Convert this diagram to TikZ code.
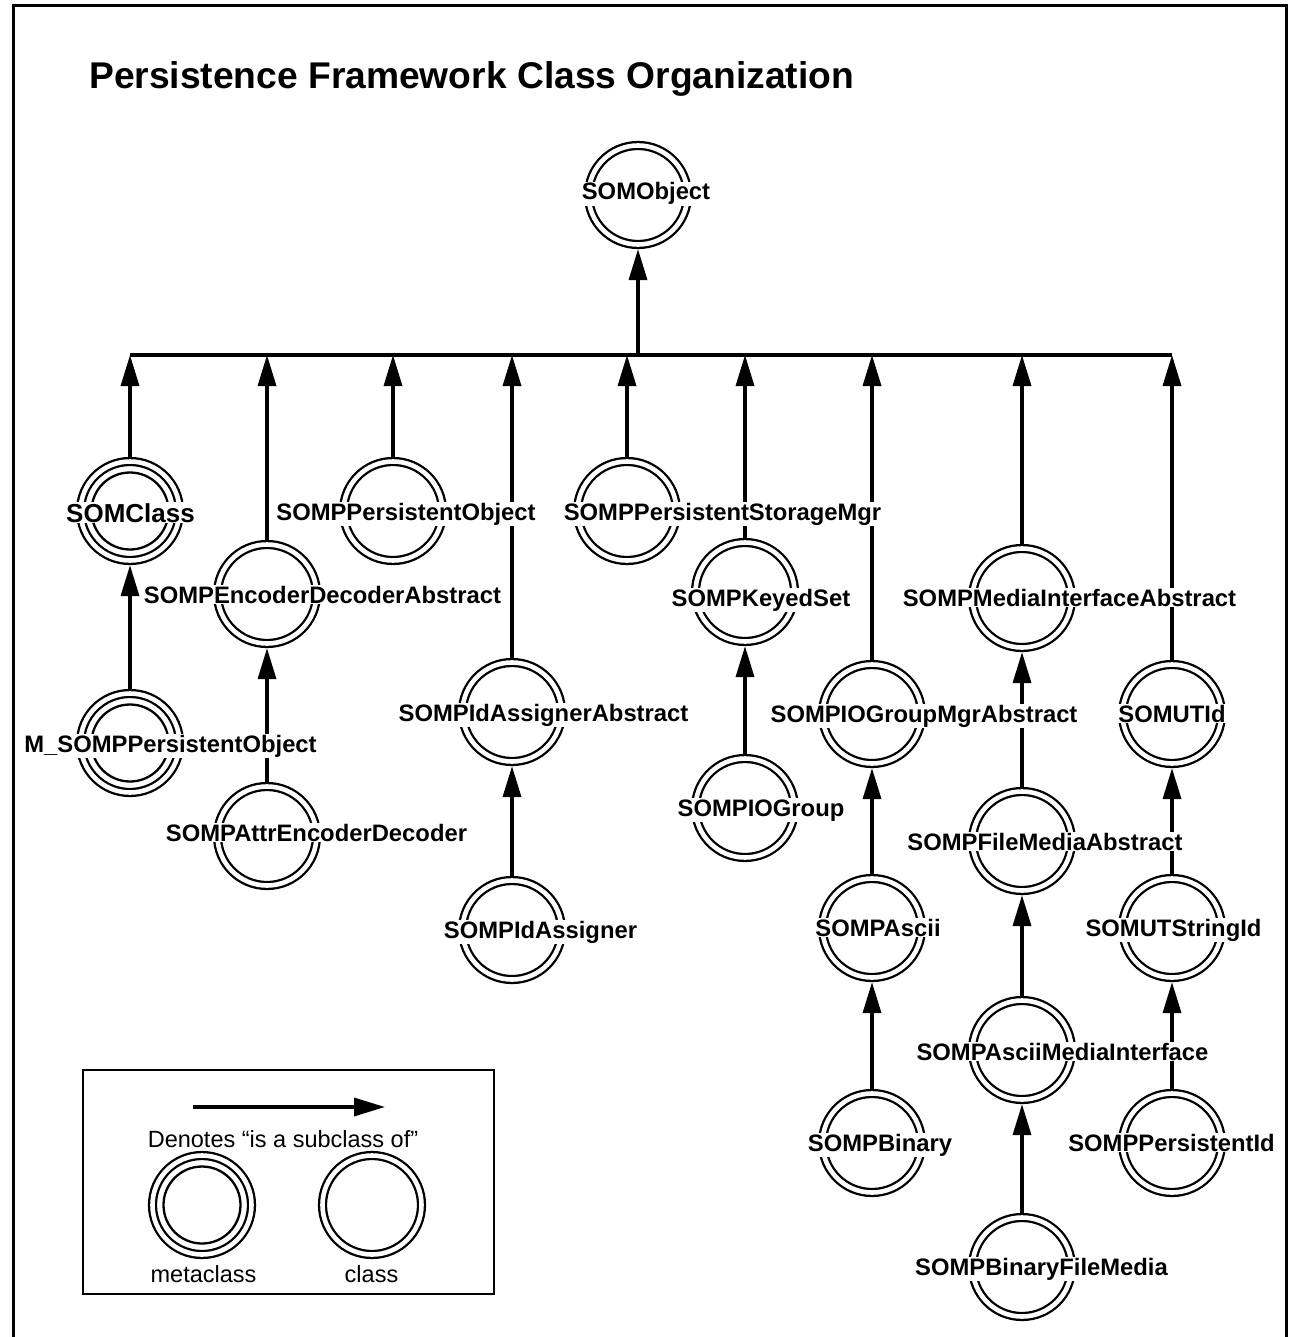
\documentclass[tikz,border=0pt]{standalone}
\usepackage{fontspec}
\setmainfont{Liberation Sans}
\usetikzlibrary{arrows.meta}
\begin{document}
\begin{tikzpicture}[x=1pt,y=-1pt,
  cls/.style={circle, draw, line width=2.3pt, double=white, double distance=4.6pt,
    minimum size=99pt, inner sep=0pt, outer sep=4.6pt},
  ring/.style={line width=2.3pt},
  lbl/.style={font=\fontsize{23.8}{28}\selectfont\bfseries, fill=white, inner sep=1.2pt, anchor=base},
  leg/.style={font=\fontsize{23.5}{28}\selectfont, inner sep=0pt, anchor=base},
  arr/.style={line width=3.4pt, -{Triangle[length=31pt,width=18pt]}},
  busline/.style={line width=3.6pt},
]
\useasboundingbox (0,0) rectangle (1288,1337);
% frame
\draw[line width=3pt] (13,1345) -- (13,6) -- (1286,6) -- (1286,1345);
% title
\node[font=\fontsize{37.2}{44}\selectfont\bfseries, anchor=base west, inner sep=0pt] (title) at (89,89)
  {Persistence Framework Class Organization};

% circles
\node[cls] (obj) at (638,195) {};
\node[cls] (somclass) at (130,511) {};
\node[cls] (encabs) at (267,594) {};
\node[cls] (pobj) at (393,511) {};
\node[cls] (idabs) at (512,712) {};
\node[cls] (psm) at (627,511) {};
\node[cls] (keyed) at (745,592) {};
\node[cls] (iogm) at (872,714) {};
\node[cls] (mia) at (1022,598) {};
\node[cls] (utid) at (1172,714) {};
\node[cls] (mpobj) at (130,743) {};
\node[cls] (attr) at (267,836) {};
\node[cls] (idas) at (512,930) {};
\node[cls] (iogroup) at (745,808) {};
\node[cls] (ascii) at (872,928) {};
\node[cls] (binary) at (872,1143) {};
\node[cls] (fma) at (1022,841) {};
\node[cls] (ami) at (1022,1050) {};
\node[cls] (bfm) at (1022,1267) {};
\node[cls] (strid) at (1172,928) {};
\node[cls] (pid) at (1172,1143) {};
% metaclass inner rings
\foreach \n in {somclass,mpobj} \draw[ring] (\n.center) circle (38.5pt);

% bus
\coordinate (b0) at (638,355);
\coordinate (b1) at (130,355);
\coordinate (b2) at (267,355);
\coordinate (b3) at (393,355);
\coordinate (b4) at (512,355);
\coordinate (b5) at (627,355);
\coordinate (b6) at (745,355);
\coordinate (b7) at (872,355);
\coordinate (b8) at (1022,355);
\coordinate (b9) at (1172,355);
\draw[busline] (b1) -- (b9);
\draw[arr] (b0) -- (obj.south);
\draw[arr] (somclass.north) -- (b1);
\draw[arr] (encabs.north) -- (b2);
\draw[arr] (pobj.north) -- (b3);
\draw[arr] (idabs.north) -- (b4);
\draw[arr] (psm.north) -- (b5);
\draw[arr] (keyed.north) -- (b6);
\draw[arr] (iogm.north) -- (b7);
\draw[arr] (mia.north) -- (b8);
\draw[arr] (utid.north) -- (b9);
% subclass arrows
\draw[arr] (mpobj.north) -- (somclass.south);
\draw[arr] (attr.north) -- (encabs.south);
\draw[arr] (idas.north) -- (idabs.south);
\draw[arr] (iogroup.north) -- (keyed.south);
\draw[arr] (ascii.north) -- (iogm.south);
\draw[arr] (binary.north) -- (ascii.south);
\draw[arr] (fma.north) -- (mia.south);
\draw[arr] (ami.north) -- (fma.south);
\draw[arr] (bfm.north) -- (ami.south);
\draw[arr] (strid.north) -- (utid.south);
\draw[arr] (pid.north) -- (strid.south);

% labels
\node[lbl] (l-obj) at (646,200) {SOMObject};
\node[lbl, font=\fontsize{26}{30}\selectfont\bfseries] (l-somclass) at (130.5,522) {SOMClass};
\node[lbl] (l-pobj) at (406,520) {SOMPPersistentObject};
\node[lbl] (l-encabs) at (322.5,603) {SOMPEncoderDecoderAbstract};
\node[lbl] (l-idabs) at (543.5,721) {SOMPIdAssignerAbstract};
\node[lbl] (l-psm) at (722.5,520) {SOMPPersistentStorageMgr};
\node[lbl] (l-keyed) at (761,606) {SOMPKeyedSet};
\node[lbl] (l-iogm) at (924,722) {SOMPIOGroupMgrAbstract};
\node[lbl] (l-mia) at (1069.5,606) {SOMPMediaInterfaceAbstract};
\node[lbl] (l-utid) at (1172,722) {SOMUTId};
\node[lbl] (l-mpobj) at (170.5,752) {M\_SOMPPersistentObject};
\node[lbl] (l-attr) at (316.5,841) {SOMPAttrEncoderDecoder};
\node[lbl] (l-idas) at (540.5,938) {SOMPIdAssigner};
\node[lbl] (l-iogroup) at (761,816) {SOMPIOGroup};
\node[lbl] (l-ascii) at (878,936) {SOMPAscii};
\node[lbl] (l-binary) at (880,1151) {SOMPBinary};
\node[lbl] (l-fma) at (1045,850) {SOMPFileMediaAbstract};
\node[lbl] (l-ami) at (1062.5,1060) {SOMPAsciiMediaInterface};
\node[lbl] (l-bfm) at (1041.5,1275) {SOMPBinaryFileMedia};
\node[lbl] (l-strid) at (1173.5,936) {SOMUTStringId};
\node[lbl] (l-pid) at (1171.5,1151) {SOMPPersistentId};

% legend
\node[draw, line width=2.4pt, minimum width=411pt, minimum height=224pt, inner sep=0pt, anchor=north west] (legend) at (82,1069) {};
\coordinate (la) at (193,1107);
\coordinate (lb) at (385,1107);
\draw[arr] (la) -- (lb);
\node[leg] (ltext) at (283,1147) {Denotes “is a subclass of”};
\node[cls] (lmeta) at (202,1205) {};
\draw[ring] (lmeta.center) circle (38.5pt);
\node[cls] (lclass) at (372,1205) {};
\node[leg] (lmetat) at (203.5,1282) {metaclass};
\node[leg] (lclasst) at (371.5,1282) {class};
\end{tikzpicture}
\end{document}
